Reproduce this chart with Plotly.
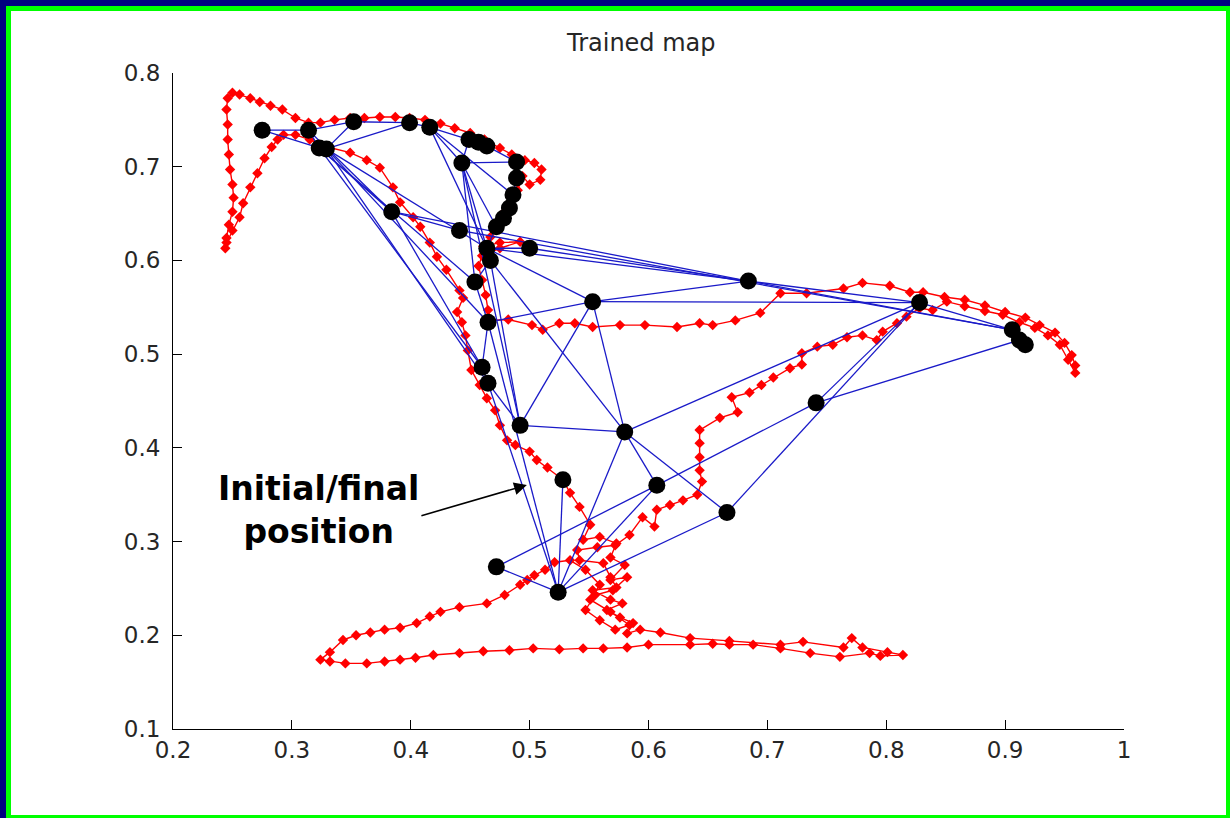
import plotly.graph_objects as go

# ---- SOM node positions (black dots) ----
node_x = [0.275, 0.314, 0.323, 0.329, 0.352, 0.399, 0.416, 0.449, 0.457, 0.464,
          0.443, 0.489, 0.489, 0.486, 0.483, 0.478, 0.472, 0.384, 0.441, 0.464,
          0.467, 0.500, 0.454, 0.465, 0.460, 0.465, 0.492, 0.553, 0.684, 0.828,
          0.906, 0.912, 0.917, 0.741, 0.580, 0.528, 0.607, 0.666, 0.472, 0.524]
node_y = [0.739, 0.739, 0.720, 0.719, 0.748, 0.747, 0.742, 0.729, 0.726, 0.722,
          0.704, 0.705, 0.688, 0.670, 0.656, 0.645, 0.636, 0.652, 0.632, 0.613,
          0.600, 0.613, 0.577, 0.534, 0.486, 0.469, 0.424, 0.556, 0.578, 0.555,
          0.526, 0.515, 0.510, 0.448, 0.417, 0.366, 0.360, 0.331, 0.273, 0.246]

# ---- connections between nodes (blue lines) ----
edges = [(0, 1), (0, 2), (1, 2), (1, 4), (2, 3), (3, 4), (3, 5), (4, 5), (5, 6),
         (6, 7), (7, 8), (8, 9), (9, 11), (11, 12), (12, 13), (13, 14), (14, 15),
         (15, 16), (6, 10), (10, 11), (7, 10), (6, 19), (6, 13), (10, 19), (10, 22),
         (10, 16), (10, 26), (1, 17), (2, 17), (3, 19), (2, 22), (3, 23), (2, 24),
         (3, 25), (17, 24), (17, 18), (17, 28), (18, 30), (19, 20), (19, 21),
         (19, 27), (20, 34), (22, 23), (23, 24), (24, 25), (25, 26), (16, 19),
         (21, 28), (19, 28), (27, 28), (28, 30), (28, 29), (27, 29), (29, 30),
         (30, 31), (31, 32), (23, 27), (26, 27), (27, 34), (26, 34), (34, 29),
         (34, 36), (34, 37), (34, 39), (33, 29), (33, 31), (36, 33), (38, 36),
         (38, 39), (39, 35), (39, 36), (39, 37), (37, 29), (23, 39), (25, 39),
         (20, 26), (20, 22)]

# ---- robot trajectory (red) ----
path_x = [0.528, 0.515, 0.506, 0.500, 0.488, 0.481, 0.475, 0.471, 0.464, 0.458,
          0.451, 0.448, 0.446, 0.443, 0.439, 0.444, 0.441, 0.430, 0.422, 0.416,
          0.408, 0.402, 0.391, 0.385, 0.374, 0.363, 0.349, 0.330, 0.315, 0.303,
          0.293, 0.288, 0.283, 0.277, 0.271, 0.265, 0.259, 0.256, 0.250, 0.245,
          0.244, 0.245, 0.247, 0.250, 0.251, 0.250, 0.248, 0.247, 0.246, 0.246,
          0.245, 0.246, 0.250, 0.256, 0.265, 0.273, 0.282, 0.292, 0.303, 0.314,
          0.324, 0.336, 0.349, 0.361, 0.374, 0.387, 0.399, 0.412, 0.425, 0.437,
          0.450, 0.462, 0.475, 0.485, 0.496, 0.504, 0.510, 0.509, 0.500, 0.494,
          0.490, 0.485, 0.479, 0.473, 0.467, 0.461, 0.475, 0.492, 0.475, 0.460,
          0.457, 0.460, 0.463, 0.465, 0.468, 0.482, 0.502, 0.511, 0.525, 0.538,
          0.553, 0.576, 0.597, 0.624, 0.643, 0.654, 0.673, 0.694, 0.711, 0.733,
          0.764, 0.780, 0.803, 0.820, 0.831, 0.849, 0.866, 0.883, 0.900, 0.917,
          0.929, 0.942, 0.950, 0.956, 0.959, 0.959, 0.953, 0.946, 0.936, 0.925,
          0.912, 0.898, 0.883, 0.866, 0.851, 0.839, 0.828, 0.817, 0.809, 0.797,
          0.792, 0.780, 0.767, 0.755, 0.742, 0.729, 0.729, 0.719, 0.705, 0.695,
          0.685, 0.670, 0.675, 0.660, 0.643, 0.643, 0.643, 0.643, 0.645, 0.641,
          0.629, 0.618, 0.607, 0.605, 0.595, 0.584, 0.572,
          0.557, 0.540, 0.542, 0.562, 0.568, 0.573, 0.553, 0.568, 0.578, 0.565,
          0.576, 0.587, 0.582,
          0.593, 0.610, 0.635, 0.668, 0.711, 0.730,
          0.764, 0.771, 0.780, 0.801, 0.814, 0.795, 0.786, 0.761, 0.736, 0.711,
          0.688, 0.668, 0.654, 0.635, 0.600, 0.582, 0.562, 0.545, 0.525, 0.503,
          0.483, 0.461, 0.441, 0.419, 0.404, 0.391, 0.378, 0.363, 0.345, 0.332,
          0.324, 0.332, 0.343, 0.354, 0.366, 0.378, 0.391, 0.405, 0.416, 0.425,
          0.441, 0.464, 0.479, 0.492, 0.498, 0.504, 0.513, 0.521,
          0.534, 0.547, 0.559, 0.551, 0.568, 0.584, 0.572, 0.559, 0.547, 0.555,
          0.570, 0.582, 0.568, 0.580, 0.568, 0.573, 0.559, 0.545, 0.551, 0.542,
          0.534, 0.528]
path_y = [0.366, 0.379, 0.387, 0.396, 0.403, 0.408, 0.424, 0.440, 0.453, 0.467,
          0.483, 0.504, 0.520, 0.534, 0.545, 0.560, 0.568, 0.590, 0.604, 0.619,
          0.636, 0.646, 0.662, 0.678, 0.699, 0.707, 0.715, 0.721, 0.729, 0.734,
          0.734, 0.729, 0.721, 0.709, 0.693, 0.678, 0.661, 0.646, 0.632, 0.619,
          0.613, 0.624, 0.638, 0.652, 0.667, 0.681, 0.697, 0.713, 0.729, 0.745,
          0.761, 0.773, 0.779, 0.777, 0.773, 0.769, 0.765, 0.761, 0.752, 0.747,
          0.747, 0.750, 0.752, 0.752, 0.753, 0.753, 0.752, 0.750, 0.746, 0.741,
          0.736, 0.729, 0.720, 0.713, 0.707, 0.704, 0.697, 0.686, 0.681, 0.690,
          0.675, 0.665, 0.652, 0.638, 0.625, 0.615, 0.619, 0.620, 0.613, 0.605,
          0.594, 0.579, 0.563, 0.547, 0.536, 0.537, 0.531, 0.526, 0.533, 0.533,
          0.529, 0.531, 0.531, 0.529, 0.533, 0.531, 0.536, 0.544, 0.565, 0.565,
          0.570, 0.576, 0.573, 0.566, 0.566, 0.561, 0.558, 0.552, 0.545, 0.539,
          0.531, 0.523, 0.512, 0.499, 0.488, 0.480, 0.494, 0.510, 0.520, 0.528,
          0.534, 0.542, 0.546, 0.551, 0.556, 0.547, 0.549, 0.540, 0.533, 0.524,
          0.515, 0.520, 0.518, 0.510, 0.508, 0.501, 0.489, 0.485, 0.475, 0.467,
          0.459, 0.454, 0.438, 0.432, 0.419, 0.405, 0.390, 0.376, 0.364, 0.350,
          0.344, 0.339, 0.334, 0.316, 0.326, 0.307, 0.296,
          0.294, 0.291, 0.280, 0.277, 0.262, 0.251, 0.248, 0.238, 0.234, 0.227,
          0.219, 0.213, 0.202,
          0.206, 0.203, 0.197, 0.194, 0.190, 0.193,
          0.187, 0.197, 0.187, 0.182, 0.179, 0.178, 0.181, 0.177, 0.181, 0.186,
          0.190, 0.190, 0.191, 0.190, 0.190, 0.187, 0.186, 0.186, 0.185, 0.186,
          0.184, 0.183, 0.181, 0.179, 0.176, 0.174, 0.172, 0.170, 0.170, 0.172,
          0.174, 0.182, 0.195, 0.200, 0.203, 0.206, 0.208, 0.213, 0.220, 0.225,
          0.230, 0.234, 0.243, 0.254, 0.259, 0.264, 0.270, 0.278,
          0.280, 0.270, 0.254, 0.238, 0.225, 0.211, 0.206, 0.216, 0.227, 0.243,
          0.248, 0.262, 0.259, 0.275, 0.283, 0.298, 0.305, 0.302, 0.318, 0.337,
          0.352, 0.366]

x_ticks = [0.2, 0.3, 0.4, 0.5, 0.6, 0.7, 0.8, 0.9, 1.0]
x_tick_labels = ["0.2", "0.3", "0.4", "0.5", "0.6", "0.7", "0.8", "0.9", "1"]
y_ticks = [0.1, 0.2, 0.3, 0.4, 0.5, 0.6, 0.7, 0.8]
y_tick_labels = ["0.1", "0.2", "0.3", "0.4", "0.5", "0.6", "0.7", "0.8"]

title_text = "Trained map"
note_text = "Initial/final<br>position"

# build edge polyline from node table
ex, ey = [], []
for a, b in edges:
    ex += [node_x[a], node_x[b], None]
    ey += [node_y[a], node_y[b], None]

fig = go.Figure()
fig.add_trace(go.Scatter(x=path_x, y=path_y, mode="lines+markers",
                         line=dict(color="#ff0000", width=1.4),
                         marker=dict(symbol="diamond", size=8, color="#ff0000"),
                         hoverinfo="skip"))
fig.add_trace(go.Scatter(x=ex, y=ey, mode="lines",
                         line=dict(color="#1a1ac8", width=1.3),
                         hoverinfo="skip"))
fig.add_trace(go.Scatter(x=node_x, y=node_y, mode="markers",
                         marker=dict(size=17, color="black"),
                         hoverinfo="skip"))

W, H = 1230, 818
ml, mr, mt, mb = 173, 106, 73, 89
pw, ph = W - ml - mr, H - mt - mb


def px(xp):
    return (xp - ml) / pw


def py(yp):
    return (H - mb - yp) / ph


shapes = [
    dict(type="rect", xref="paper", yref="paper", x0=px(0), x1=px(W), y0=py(H), y1=py(0),
         fillcolor="#000080", line=dict(width=0), layer="below"),
    dict(type="rect", xref="paper", yref="paper", x0=px(6), x1=px(W), y0=py(H), y1=py(6),
         fillcolor="#00ff00", line=dict(width=0), layer="below"),
    dict(type="rect", xref="paper", yref="paper", x0=px(11), x1=px(W - 4), y0=py(H - 3), y1=py(11),
         fillcolor="white", line=dict(width=0), layer="below"),
]

tickfont = dict(family="DejaVu Sans", size=23, color="#262626")
axis_common = dict(showline=True, linecolor="black", linewidth=1, ticks="inside",
                   ticklen=9, tickcolor="black", tickwidth=1, showgrid=False,
                   zeroline=False, mirror=False, tickfont=tickfont)

fig.update_layout(
    width=W, height=H,
    margin=dict(l=ml, r=mr, t=mt, b=mb),
    paper_bgcolor="white", plot_bgcolor="white",
    showlegend=False,
    shapes=shapes,
    xaxis=dict(range=[0.2, 1.0], tickvals=x_ticks, ticktext=x_tick_labels,
               ticklabelstandoff=0, **axis_common),
    yaxis=dict(range=[0.1, 0.8], tickvals=y_ticks, ticktext=y_tick_labels,
               ticklabelstandoff=7, **axis_common),
    annotations=[
        dict(text=title_text, xref="paper", yref="paper", x=px(641), y=py(43),
             xanchor="center", yanchor="middle", showarrow=False,
             font=dict(family="DejaVu Sans", size=24, color="#262626")),
        dict(text="<b>" + note_text + "</b>", xref="x", yref="y", x=0.322, y=0.334,
             xanchor="center", yanchor="middle", showarrow=False, align="center",
             font=dict(family="DejaVu Sans", size=33, color="black")),
        dict(text="", xref="x", yref="y", x=0.4977, y=0.3603,
             axref="x", ayref="y", ax=0.4077, ay=0.3272,
             showarrow=True, arrowhead=2, arrowsize=1.6, arrowwidth=1.6,
             arrowcolor="black", standoff=0, startstandoff=0),
    ],
)

fig.write_html("out.html", config={"displayModeBar": False},
               post_script="document.body.style.margin='0';")
